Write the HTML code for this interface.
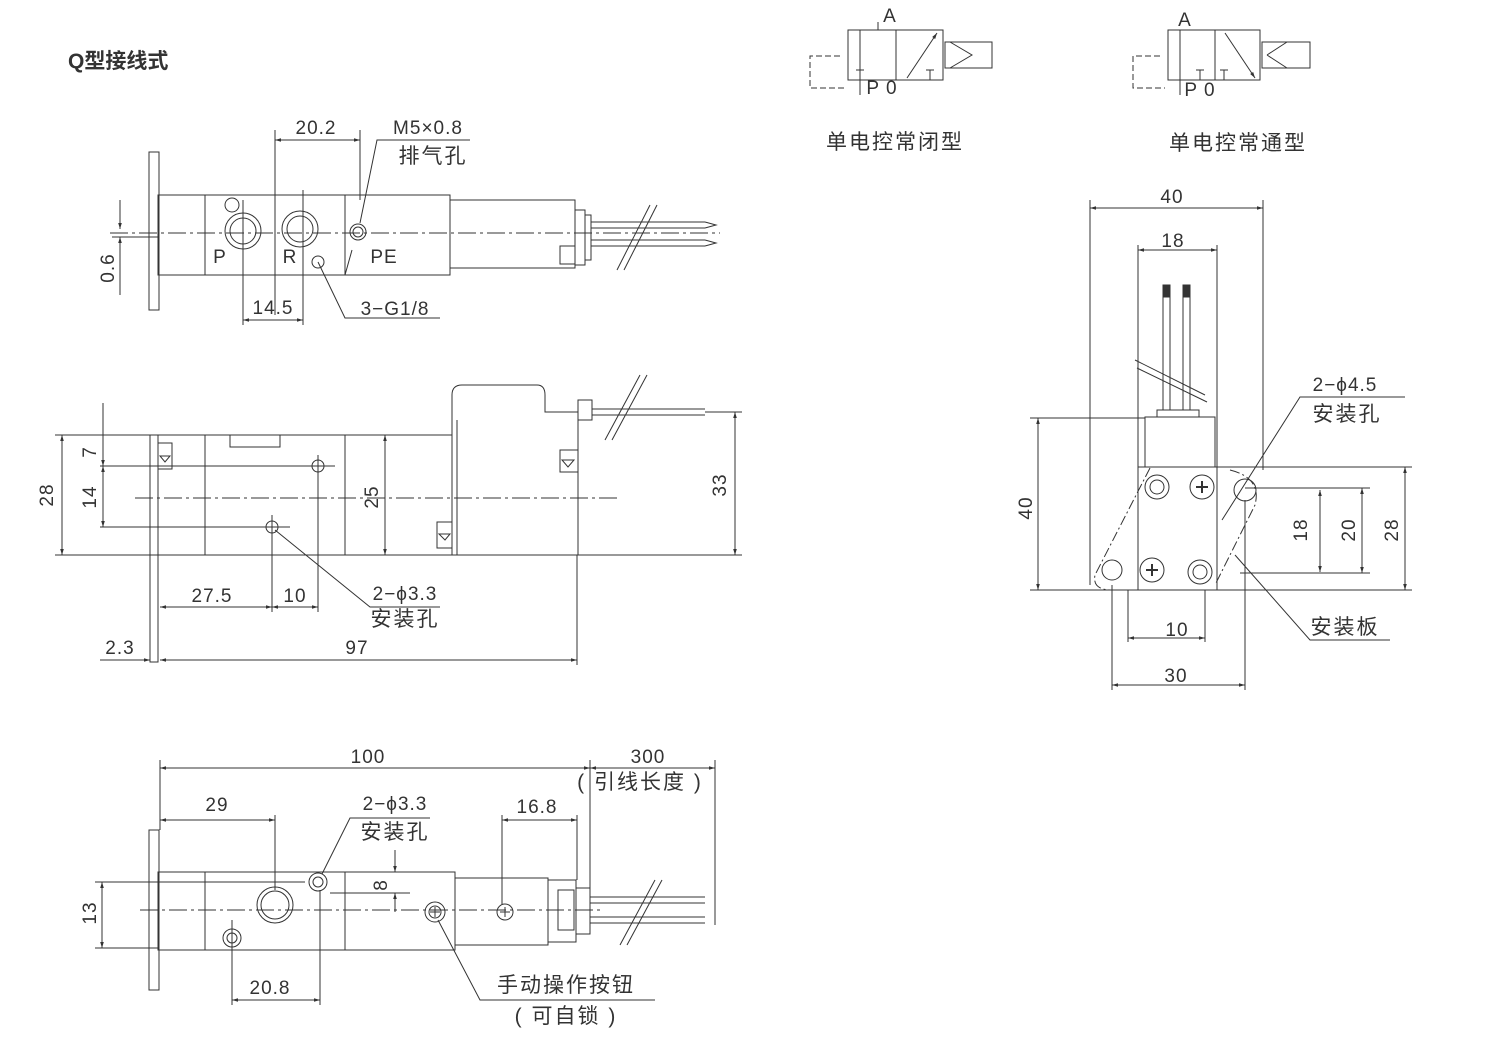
<!DOCTYPE html>
<html><head><meta charset="utf-8"><style>
html,body{margin:0;padding:0;background:#fff}
svg{display:block}
text{font-family:"Liberation Sans","Noto Sans CJK SC",sans-serif;fill:#333;font-size:19px;letter-spacing:1px}
.c{font-size:21px;letter-spacing:2px}
</style></head><body>
<svg width="1486" height="1050" viewBox="0 0 1486 1050" xmlns="http://www.w3.org/2000/svg">
<defs>
<marker id="a" viewBox="0 0 10 10" refX="10" refY="5" markerWidth="9" markerHeight="6" orient="auto-start-reverse"><path d="M0,2 L10,5 L0,8 z" fill="#333"/></marker>
</defs>
<g stroke="#333" stroke-width="1" fill="none">
<rect x="149" y="152" width="10" height="158"/>
<rect x="158" y="195" width="292" height="80"/>
<line x1="205" y1="195" x2="205" y2="275"/>
<line x1="345" y1="195" x2="345" y2="275"/>
<line x1="345" y1="275" x2="352" y2="250"/>
<path d="M450,195 L450,275"/>
<path d="M450,200 L575,200 L575,268 L450,268"/>
<rect x="575" y="210" width="10" height="55"/>
<rect x="585" y="215" width="6" height="45"/>
<rect x="560" y="246" width="15" height="18"/>
<line x1="591" y1="222" x2="705" y2="222"/><line x1="591" y1="228" x2="705" y2="228"/>
<line x1="591" y1="240" x2="705" y2="240"/><line x1="591" y1="246" x2="705" y2="246"/>
<path d="M705,222 L716,225 L705,228 M705,240 L716,243 L705,246"/>
<line x1="617" y1="270" x2="650" y2="205"/><line x1="624" y1="270" x2="657" y2="205"/>
<line x1="110" y1="233" x2="720" y2="233" stroke-dasharray="18,4,3,4"/>
<circle cx="243" cy="231" r="18"/><circle cx="243" cy="231" r="13"/>
<circle cx="232" cy="205" r="7"/>
<circle cx="300" cy="229" r="18"/><circle cx="300" cy="229" r="13"/>
<circle cx="318" cy="262" r="6"/>
<circle cx="358" cy="232" r="8"/><circle cx="358" cy="232" r="5"/>
<line x1="243" y1="200" x2="243" y2="325"/>
<line x1="303" y1="190" x2="303" y2="325"/>
<line x1="275" y1="130" x2="275" y2="315"/>
<line x1="360" y1="130" x2="360" y2="200"/>
<line x1="275" y1="140" x2="360" y2="140" marker-start="url(#a)" marker-end="url(#a)"/>
<line x1="243" y1="320" x2="303" y2="320" marker-start="url(#a)" marker-end="url(#a)"/>
<polyline points="470,140 377,140 360,223" />
<polyline points="318,262 345,318 440,318"/>
<line x1="120" y1="200" x2="120" y2="229" marker-end="url(#a)"/>
<line x1="120" y1="237" x2="120" y2="295" marker-start="url(#a)"/>
<line x1="112" y1="237" x2="158" y2="237"/>

<rect x="150" y="435" width="8" height="227"/>
<rect x="158" y="435" width="294" height="120"/>
<line x1="205" y1="435" x2="205" y2="555"/>
<line x1="345" y1="435" x2="345" y2="555"/>
<rect x="230" y="435" width="50" height="12"/>
<rect x="158" y="443" width="14" height="26"/>
<path d="M160,456 L170,456 L165,462 z"/>
<path d="M452,555 L452,395 Q452,385 462,385 L537,385 Q545,385 545,395 L545,412 L578,412 L578,555 z"/>
<line x1="457" y1="420" x2="457" y2="555"/>
<rect x="578" y="400" width="14" height="20"/>
<line x1="592" y1="409" x2="705" y2="409"/><line x1="592" y1="415" x2="705" y2="415"/>
<rect x="560" y="450" width="18" height="22"/><path d="M562,460 L574,460 L568,467 z"/>
<rect x="437" y="522" width="15" height="26"/><path d="M439,534 L450,534 L445,540 z"/>
<line x1="605" y1="440" x2="640" y2="375"/><line x1="612" y1="440" x2="647" y2="375"/>
<line x1="135" y1="498" x2="620" y2="498" stroke-dasharray="18,4,3,4"/>
<circle cx="318" cy="466" r="6"/><circle cx="272" cy="527" r="6"/>
<line x1="100" y1="466" x2="335" y2="466"/>
<line x1="100" y1="527" x2="290" y2="527"/>
<line x1="55" y1="435" x2="158" y2="435"/><line x1="55" y1="555" x2="158" y2="555"/>
<line x1="62" y1="435" x2="62" y2="555" marker-start="url(#a)" marker-end="url(#a)"/>
<line x1="103" y1="403" x2="103" y2="466" marker-end="url(#a)"/>
<line x1="103" y1="466" x2="103" y2="527" marker-start="url(#a)" marker-end="url(#a)"/>
<line x1="385" y1="435" x2="385" y2="555" marker-start="url(#a)" marker-end="url(#a)"/>
<line x1="705" y1="412" x2="742" y2="412"/><line x1="578" y1="555" x2="742" y2="555"/>
<line x1="735" y1="412" x2="735" y2="555" marker-start="url(#a)" marker-end="url(#a)"/>
<line x1="272" y1="515" x2="272" y2="612"/><line x1="318" y1="455" x2="318" y2="612"/>
<line x1="160" y1="607" x2="272" y2="607" marker-start="url(#a)" marker-end="url(#a)"/>
<line x1="272" y1="607" x2="318" y2="607" marker-start="url(#a)" marker-end="url(#a)"/>
<polyline points="275,530 370,607 440,607"/>
<line x1="577" y1="555" x2="577" y2="665"/>
<line x1="160" y1="660" x2="577" y2="660" marker-start="url(#a)" marker-end="url(#a)"/>
<line x1="100" y1="660" x2="150" y2="660" marker-end="url(#a)"/>

<rect x="149" y="830" width="10" height="160"/>
<rect x="158" y="872" width="297" height="78"/>
<line x1="205" y1="872" x2="205" y2="950"/>
<line x1="345" y1="872" x2="345" y2="950"/>
<rect x="455" y="878" width="93" height="67"/>
<rect x="548" y="880" width="28" height="62"/>
<rect x="558" y="890" width="16" height="40"/>
<rect x="576" y="888" width="14" height="46"/>
<line x1="590" y1="897" x2="705" y2="897"/><line x1="590" y1="903" x2="705" y2="903"/>
<line x1="590" y1="917" x2="705" y2="917"/><line x1="590" y1="923" x2="705" y2="923"/>
<line x1="620" y1="945" x2="655" y2="880"/><line x1="627" y1="945" x2="662" y2="880"/>
<circle cx="275" cy="905" r="18"/><circle cx="275" cy="905" r="14"/>
<circle cx="318" cy="882" r="9"/><circle cx="318" cy="882" r="5"/>
<circle cx="232" cy="938" r="9"/><circle cx="232" cy="938" r="5"/>
<circle cx="435" cy="912" r="10"/><circle cx="435" cy="912" r="6"/>
<circle cx="505" cy="912" r="8"/><path d="M500,912 h10 M505,907 v10"/>
<line x1="430" y1="912" x2="440" y2="912"/><line x1="435" y1="907" x2="435" y2="917"/>
<line x1="140" y1="910" x2="600" y2="910" stroke-dasharray="18,4,3,4"/>
<line x1="160" y1="760" x2="160" y2="830"/>
<line x1="590" y1="760" x2="590" y2="888"/><line x1="715" y1="760" x2="715" y2="925"/>
<line x1="160" y1="768" x2="590" y2="768" marker-start="url(#a)" marker-end="url(#a)"/>
<line x1="590" y1="768" x2="715" y2="768" marker-start="url(#a)" marker-end="url(#a)"/>
<line x1="275" y1="815" x2="275" y2="890"/>
<line x1="160" y1="820" x2="275" y2="820" marker-start="url(#a)" marker-end="url(#a)"/>
<line x1="502" y1="815" x2="502" y2="905"/><line x1="577" y1="815" x2="577" y2="880"/>
<line x1="502" y1="820" x2="577" y2="820" marker-start="url(#a)" marker-end="url(#a)"/>
<polyline points="430,818 350,818 322,874"/>
<line x1="395" y1="850" x2="395" y2="872" marker-end="url(#a)"/>
<line x1="395" y1="893" x2="395" y2="912" marker-start="url(#a)"/>
<line x1="380" y1="872" x2="410" y2="872"/><line x1="330" y1="893" x2="410" y2="893"/>
<line x1="95" y1="882" x2="305" y2="882"/><line x1="95" y1="948" x2="158" y2="948"/>
<line x1="102" y1="882" x2="102" y2="948" marker-start="url(#a)" marker-end="url(#a)"/>
<line x1="232" y1="920" x2="232" y2="1005"/><line x1="320" y1="890" x2="320" y2="1005"/>
<line x1="232" y1="1000" x2="320" y2="1000" marker-start="url(#a)" marker-end="url(#a)"/>
<polyline points="438,920 480,1000 655,1000"/>

<rect x="848" y="30" width="95" height="50"/><line x1="896" y1="30" x2="896" y2="80"/>
<line x1="860" y1="30" x2="860" y2="80"/><line x1="856" y1="70" x2="864" y2="70"/>
<line x1="907" y1="78" x2="937" y2="33" marker-end="url(#a)"/>
<line x1="926" y1="70" x2="934" y2="70"/><line x1="930" y1="70" x2="930" y2="80"/>
<rect x="945" y="42" width="47" height="26"/><path d="M950,42 L972,55 L950,68"/>
<line x1="878" y1="22" x2="878" y2="30"/>
<path d="M840,56 L810,56 L810,88 L845,88" stroke-dasharray="6,3"/>
<line x1="860" y1="80" x2="860" y2="95"/>
<rect x="1168" y="30" width="92" height="50"/><line x1="1215" y1="30" x2="1215" y2="80"/>
<line x1="1180" y1="30" x2="1180" y2="80"/>
<line x1="1225" y1="33" x2="1255" y2="78" marker-end="url(#a)"/>
<path d="M1196,70 h8 M1200,70 v10 M1220,70 h8 M1224,70 v10"/>
<rect x="1262" y="42" width="48" height="26"/><path d="M1267,55 L1287,42 M1267,55 L1287,68"/>
<path d="M1160,56 L1133,56 L1133,88 L1165,88" stroke-dasharray="6,3"/>
<line x1="1180" y1="80" x2="1180" y2="95"/>

<line x1="1090" y1="200" x2="1090" y2="585"/>
<line x1="1263" y1="200" x2="1263" y2="470"/>
<line x1="1090" y1="208" x2="1263" y2="208" marker-start="url(#a)" marker-end="url(#a)"/>
<line x1="1138" y1="245" x2="1138" y2="470"/><line x1="1217" y1="245" x2="1217" y2="470"/>
<line x1="1138" y1="250" x2="1217" y2="250" marker-start="url(#a)" marker-end="url(#a)"/>
<rect x="1163" y="285" width="7" height="125"/><rect x="1183" y="285" width="7" height="125"/>
<rect x="1164" y="285" width="5" height="12" fill="#333"/><rect x="1184" y="285" width="5" height="12" fill="#333"/>
<line x1="1135" y1="360" x2="1205" y2="395"/><line x1="1137" y1="368" x2="1207" y2="402"/>
<rect x="1157" y="410" width="42" height="7"/>
<rect x="1145" y="417" width="70" height="50"/>
<rect x="1138" y="467" width="79" height="123"/>
<path d="M1150,468 L1095,575 Q1092,590 1112,590 M1230,470 Q1262,478 1255,505 L1215,585" stroke-dasharray="10,3,2,3"/>
<circle cx="1157" cy="487" r="12"/><circle cx="1157" cy="487" r="7"/>
<circle cx="1202" cy="487" r="12"/><path d="M1196,487 h12 M1202,481 v12" stroke-width="2"/>
<circle cx="1245" cy="490" r="11"/>
<circle cx="1112" cy="570" r="10"/>
<circle cx="1152" cy="570" r="12"/><path d="M1146,570 h12 M1152,564 v12" stroke-width="2"/>
<circle cx="1200" cy="572" r="12"/><circle cx="1200" cy="572" r="7"/>
<line x1="1030" y1="418" x2="1145" y2="418"/><line x1="1030" y1="590" x2="1217" y2="590"/>
<line x1="1038" y1="418" x2="1038" y2="590" marker-start="url(#a)" marker-end="url(#a)"/>
<line x1="1217" y1="467" x2="1412" y2="467"/>
<line x1="1245" y1="488" x2="1370" y2="488"/>
<line x1="1240" y1="573" x2="1370" y2="573"/>
<line x1="1405" y1="467" x2="1405" y2="590" marker-start="url(#a)" marker-end="url(#a)"/>
<line x1="1362" y1="488" x2="1362" y2="573" marker-start="url(#a)" marker-end="url(#a)"/>
<line x1="1320" y1="490" x2="1320" y2="572" marker-start="url(#a)" marker-end="url(#a)"/>
<line x1="1217" y1="590" x2="1412" y2="590"/>
<polyline points="1405,397 1300,397 1222,520"/>
<polyline points="1235,555 1310,640 1390,640"/>
<line x1="1128" y1="590" x2="1128" y2="642"/><line x1="1205" y1="590" x2="1205" y2="642"/>
<line x1="1128" y1="638" x2="1205" y2="638" marker-start="url(#a)" marker-end="url(#a)"/>
<line x1="1112" y1="585" x2="1112" y2="690"/><line x1="1245" y1="500" x2="1245" y2="690"/>
<line x1="1112" y1="685" x2="1245" y2="685" marker-start="url(#a)" marker-end="url(#a)"/>
</g>
<g text-anchor="middle">
<text x="68" y="68" text-anchor="start" style="font-weight:bold;font-size:21px;letter-spacing:0">Q型接线式</text>
<text x="316" y="134">20.2</text>
<text x="428" y="134">M5×0.8</text>
<text x="433" y="163" class="c">排气孔</text>
<text x="220" y="263">P</text><text x="290" y="263">R</text><text x="384" y="263">PE</text>
<text x="273" y="314">14.5</text>
<text x="395" y="315">3−G1/8</text>
<text transform="translate(114,268) rotate(-90)">0.6</text>
<text transform="translate(53,495) rotate(-90)">28</text>
<text transform="translate(96,452) rotate(-90)">7</text>
<text transform="translate(96,497) rotate(-90)">14</text>
<text transform="translate(378,497) rotate(-90)">25</text>
<text transform="translate(726,485) rotate(-90)">33</text>
<text x="212" y="602">27.5</text><text x="295" y="602">10</text>
<text x="405" y="600">2−ϕ3.3</text><text x="405" y="626" class="c">安装孔</text>
<text x="120" y="654">2.3</text><text x="357" y="654">97</text>
<text x="368" y="763">100</text><text x="648" y="763">300</text>
<text x="640" y="789" class="c">( 引线长度 )</text>
<text x="217" y="811">29</text>
<text x="395" y="810">2−ϕ3.3</text><text x="395" y="839" class="c">安装孔</text>
<text x="537" y="813">16.8</text>
<text transform="translate(387,885) rotate(-90)">8</text>
<text transform="translate(96,913) rotate(-90)">13</text>
<text x="270" y="994">20.8</text>
<text x="566" y="992" class="c">手动操作按钮</text>
<text x="566" y="1023" class="c">( 可自锁 )</text>
<text x="890" y="22">A</text><text x="882" y="94">P  0</text>
<text x="895" y="149" class="c">单电控常闭型</text>
<text x="1185" y="26">A</text><text x="1200" y="96">P  0</text>
<text x="1238" y="150" class="c">单电控常通型</text>
<text x="1172" y="203">40</text><text x="1173" y="247">18</text>
<text x="1345" y="391">2−ϕ4.5</text><text x="1347" y="421" class="c">安装孔</text>
<text transform="translate(1032,508) rotate(-90)">40</text>
<text transform="translate(1398,530) rotate(-90)">28</text>
<text transform="translate(1355,530) rotate(-90)">20</text>
<text transform="translate(1307,530) rotate(-90)">18</text>
<text x="1345" y="634" class="c">安装板</text>
<text x="1177" y="636">10</text><text x="1176" y="682">30</text>
</g>
</svg>
</body></html>
